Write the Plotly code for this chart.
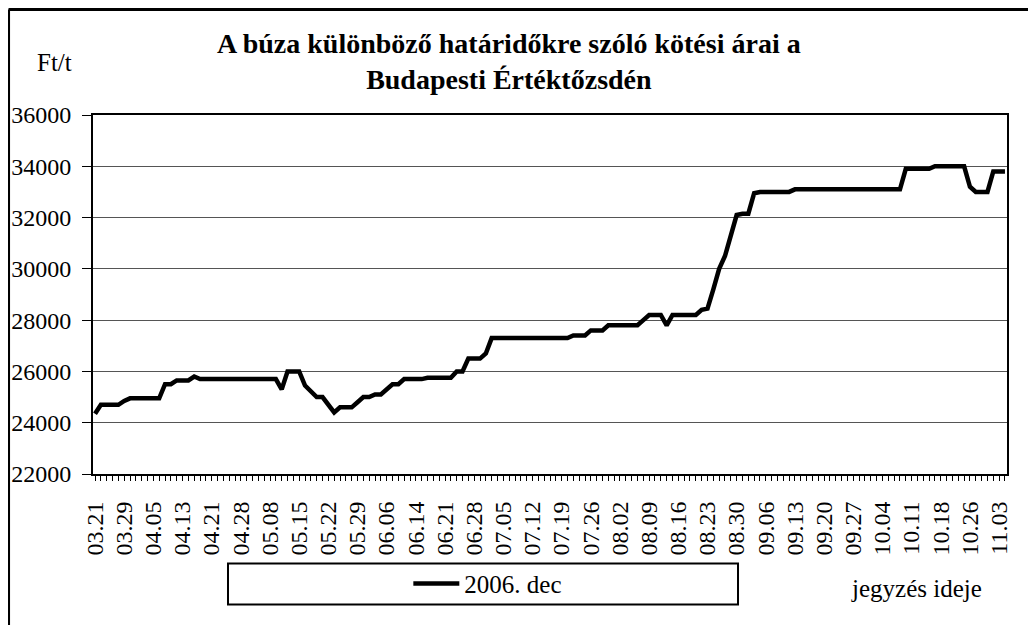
import plotly.graph_objects as go

# heti címkék (minden 5. kötési nap)
tick_labels = ["03.21", "03.29", "04.05", "04.13", "04.21", "04.28", "05.08", "05.15",
               "05.22", "05.29", "06.06", "06.14", "06.21", "06.28", "07.05", "07.12",
               "07.19", "07.26", "08.02", "08.09", "08.16", "08.23", "08.30", "09.06",
               "09.13", "09.20", "09.27", "10.04", "10.11", "10.18", "10.26", "11.03"]

# 2006. decemberi lejárat kötési árai, Ft/t
dec_2006 = [24350, 24700, 24700, 24700, 24700, 24850, 24950, 24950, 24950, 24950,
            24950, 24950, 25500, 25500, 25650, 25650, 25650, 25800, 25700, 25700,
            25700, 25700, 25700, 25700, 25700, 25700, 25700, 25700, 25700, 25700,
            25700, 25700, 25300, 26000, 26000, 26000, 25450, 25200, 25000, 25000,
            24700, 24400, 24600, 24600, 24600, 24800, 25000, 25000, 25100, 25100,
            25300, 25500, 25500, 25700, 25700, 25700, 25700, 25750, 25750, 25750,
            25750, 25750, 26000, 26000, 26500, 26500, 26500, 26700, 27300, 27300,
            27300, 27300, 27300, 27300, 27300, 27300, 27300, 27300, 27300, 27300,
            27300, 27300, 27400, 27400, 27400, 27600, 27600, 27600, 27800, 27800,
            27800, 27800, 27800, 27800, 28000, 28200, 28200, 28200, 27800, 28200,
            28200, 28200, 28200, 28200, 28400, 28450, 29200, 30000, 30500, 31300,
            32100, 32150, 32150, 32950, 33000, 33000, 33000, 33000, 33000, 33000,
            33100, 33100, 33100, 33100, 33100, 33100, 33100, 33100, 33100, 33100,
            33100, 33100, 33100, 33100, 33100, 33100, 33100, 33100, 33100, 33900,
            33900, 33900, 33900, 33900, 34000, 34000, 34000, 34000, 34000, 34000,
            33200, 33000, 33000, 33000, 33800, 33800, 33800]

day = list(range(len(dec_2006)))
serif = "Liberation Serif, Times New Roman, serif"

fig = go.Figure()
fig.add_trace(go.Scatter(
    x=day, y=dec_2006,
    mode="lines",
    name="2006. dec",
    line=dict(color="black", width=4.5)
))

fig.update_xaxes(
    range=[-0.35, 156.35],
    tickmode="array",
    tickvals=day[::5],
    ticktext=tick_labels,
    tickangle=-90,
    ticks="outside", ticklen=5, tickwidth=1, tickcolor="black",
    ticklabelstandoff=11,
    minor=dict(dtick=1, ticks="outside", ticklen=5, tickwidth=1, tickcolor="black"),
    showgrid=False, zeroline=False, automargin=False,
    showline=True, linecolor="black", linewidth=2, mirror=True,
    tickfont=dict(family=serif, size=24, color="black")
)
fig.update_yaxes(
    range=[22000, 36000],
    dtick=2000, tickformat="d",
    ticks="outside", ticklen=9, tickwidth=1, tickcolor="black",
    ticklabelstandoff=6,
    showgrid=True, gridcolor="#555555", gridwidth=1, zeroline=False, automargin=False,
    showline=True, linecolor="black", linewidth=2, mirror=True,
    tickfont=dict(family=serif, size=24, color="black")
)

fig.update_layout(
    width=1020, height=617,
    margin=dict(l=85, r=21, t=107, b=151),
    paper_bgcolor="white", plot_bgcolor="white",
    font=dict(family=serif, color="black"),
    title=dict(text="<b>A búza különböző határidőkre szóló kötési árai a<br>Budapesti Értéktőzsdén</b>",
               x=0.455, xref="paper", xanchor="center",
               y=0.927, yref="container", yanchor="middle",
               font=dict(family=serif, size=28, color="black")),
    showlegend=True,
    legend=dict(x=0.345, xanchor="left", y=-0.306, yanchor="middle",
                bgcolor="rgba(0,0,0,0)", borderwidth=0, itemwidth=46,
                font=dict(family=serif, size=25, color="black")),
    shapes=[
        # jelmagyarázat kerete
        dict(type="rect", xref="paper", yref="paper",
             x0=0.1477, x1=0.7057, y0=-0.3635, y1=-0.2493,
             line=dict(color="black", width=2)),
        # külső keret (bal és felső él)
        dict(type="line", xref="paper", yref="paper",
             x0=-0.0924, x1=-0.0924, y0=-0.5, y1=1.294,
             line=dict(color="black", width=3)),
        dict(type="line", xref="paper", yref="paper",
             x0=-0.0924, x1=1.1, y0=1.294, y1=1.294,
             line=dict(color="black", width=3)),
    ],
    annotations=[
        dict(text="Ft/t", xref="paper", yref="paper", x=-0.0416, y=1.146,
             xanchor="center", yanchor="middle", showarrow=False,
             font=dict(family=serif, size=25, color="black")),
        dict(text="jegyzés ideje", xref="paper", yref="paper", x=0.901, y=-0.319,
             xanchor="center", yanchor="middle", showarrow=False,
             font=dict(family=serif, size=25, color="black")),
    ],
)

fig.write_html("out.html")
